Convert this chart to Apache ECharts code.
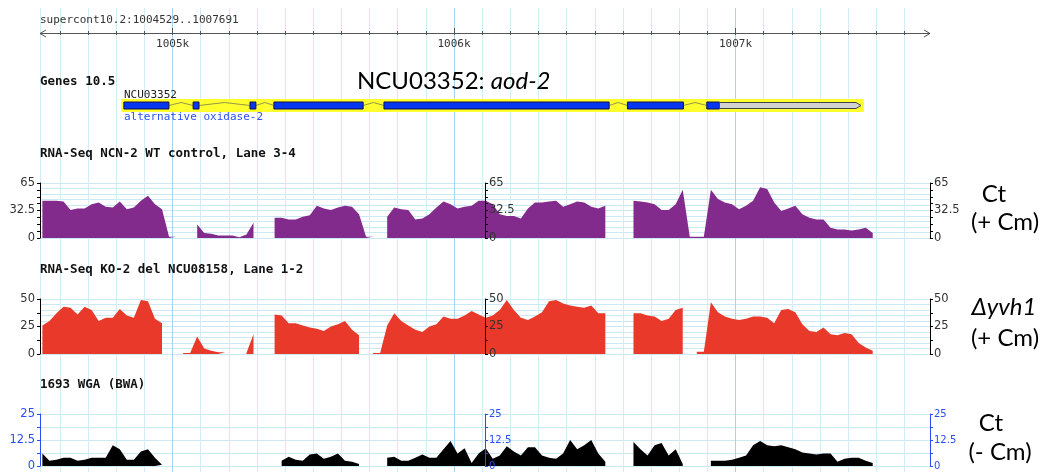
<!DOCTYPE html>
<html><head><meta charset="utf-8">
<script src="https://cdn.jsdelivr.net/npm/echarts@6/dist/echarts.min.js"></script>
<style>html,body{margin:0;padding:0;background:#fff}#c{width:1042px;height:472px}</style>
</head><body><div id="c"></div>
<script>
// ---- data ----
const viewStart = 1004529, viewEnd = 1007691;
const rulerTicks = [1004600,1004700,1004800,1004900,1005000,1005100,1005200,1005300,1005400,1005500,1005600,1005700,1005800,1005900,1006000,1006100,1006200,1006300,1006400,1006500,1006600,1006700,1006800,1006900,1007000,1007100,1007200,1007300,1007400,1007500,1007600];
const rulerLabels = [1005000,1006000,1007000];
const gridLineStart = 1004600, gridLineEnd = 1007600, gridLineStep = 100;

const geneBox = [1004817, 1007456];
const exons = [[1004827,1004987],[1005073,1005094],[1005275,1005296],[1005360,1005677],[1005751,1006551],[1006616,1006815],[1006898,1006943]];
const utr = [1006943, 1007446];

// coverage per 25 bp bin (bin centres), null = no reads
const binStart = 1004525, binSize = 25;
const _ = null;
const wtCm = [44,44,44,43,33,35,35,40,42,37, 36,43,34,36,44,50,40,34,1.5,1.5,
  _,_,16,6,5,3,3,3,1,4, 18,_,_,24,24,22,22,25,27,38,
  35,33,36,38,37,28,1.5,1.5,_,25, 36,34,33,22,23,28,36,43,40,35,
  37,38,44,44,40,28,26,26,23,35, 42,42,43,44,37,40,43,42,37,35,
  38,_,_,_,44,43,42,40,33,33, 40,57,1.5,1.5,1.5,57,46,42,40,34,
  38,44,60,58,42,32,35,38,28,24, 22,22,12,10,10,9,10,12,6,_,
  _,_,_,_,_,_,_];
const koCm = [26,30,37,43,42,36,43,40,30,33, 33,41,35,33,49,48,32,28,_,_,
  1,1,16,5,3,1.5,1.5,_,_,1, 18,_,_,36,35,28,28,26,24,23,
  21,25,27,30,22,17,_,1,1,26, 37,30,26,22,20,25,27,34,32,32,
  35,39,36,33,35,40,49,40,33,31, 34,38,48,49,46,44,43,42,44,37,
  37,_,_,_,37,37,35,34,30,32, 40,42,_,2,2,47,38,34,32,31,
  32,34,34,33,28,40,41,38,27,21, 20,24,18,17,19,18,10,6,3,_,
  _,_,_,_,_,_,_];
const wtNoCm = [6,2.5,3,4,4,2.5,3,4,4,4, 10,8,3,3,7,8,4,0.6,_,_,
  _,_,_,_,_,_,_,_,_,_, _,_,_,_,2.5,4.5,3,2.5,5.5,6,
  3.5,4.5,6,2.5,2,1,_,_,_,4, 4.5,2.5,2.5,4,5.5,4,4,8,12,6,
  8.5,1.5,6,8.5,3.5,5,9.5,7,5,9, 9,5,4,3.5,6,12.5,8,10,12.5,6,
  2,_,_,_,11.5,8,5,10,11,5, 8,1,_,_,_,2.5,2.5,2.5,3,4,
  5,10,12,10,9.5,10,9,8,6.5,6, 5.5,6,6,2,3.5,4,4,2.5,1.5,_,
  _,_,_,_,_,_,_];
const t1Ticks = [0, 32.5, 65];
const t2Ticks = [0, 25, 50];
const t3Ticks = [0, 12.5, 25];

// ---- layout ----
const L = 40, WID = 890;
const pxPerBp = WID / (viewEnd - viewStart);
const bgLeft = L + (gridLineStart - viewStart) * pxPerBp;
const bgWidth = (gridLineEnd - gridLineStart) * pxPerBp;
const light = '#d2edf5', dark = '#a6d4ec', hline = '#cce8f3';
const vColors = [];
for (let i = 0; i < 10; i++) vColors.push(i === 4 ? dark : light);

const chart = echarts.init(document.getElementById('c'));
const tracks = [
  {top:183, ticks:t1Ticks, minor:4, hstep:6.5, color:'#000', labelColor:'#333', midFont:11.5, vals:wtCm, fill:'#832a8d'},
  {top:299, ticks:t2Ticks, minor:2, hstep:5, color:'#000', labelColor:'#333', midFont:11.5, vals:koCm, fill:'#e8392a'},
  {top:414, ticks:t3Ticks, minor:2, hstep:6.25, color:'#2b4cf5', labelColor:'#2b4cf5', midFont:10, vals:wtNoCm, fill:'#000'}
];

const grid = [
  {left:bgLeft, width:bgWidth, top:8, bottom:0},
  {left:L, width:WID, top:28, height:5},
  {left:L, width:WID, top:99, height:13}
];
const xAxis = [
  {gridIndex:0, type:'value', min:gridLineStart, max:gridLineEnd, interval:gridLineStep,
   axisLine:{show:false}, axisTick:{show:false}, axisLabel:{show:false},
   splitLine:{show:true, showMinLine:true, showMaxLine:true, lineStyle:{color:vColors, width:1}}},
  {gridIndex:1, type:'value', min:viewStart, max:viewEnd, position:'bottom',
   axisLine:{show:false}, splitLine:{show:false},
   axisTick:{show:true, customValues:rulerTicks, length:2, inside:false, lineStyle:{color:'#555'}},
   axisLabel:{show:true, customValues:rulerLabels, margin:6, color:'#333', fontFamily:'DejaVu Sans Mono', fontSize:11,
     formatter:v => (v/1000) + 'k'}},
  {gridIndex:1, type:'value', min:viewStart, max:viewEnd, position:'bottom',
   axisLine:{show:false}, splitLine:{show:false}, axisLabel:{show:false},
   axisTick:{show:true, customValues:rulerTicks, length:2, inside:true, lineStyle:{color:'#555'}}},
  {gridIndex:1, type:'value', min:viewStart, max:viewEnd, position:'bottom',
   axisLine:{show:false}, splitLine:{show:false}, axisLabel:{show:false},
   axisTick:{show:true, customValues:rulerLabels, length:5, inside:true, lineStyle:{color:'#555'}}},
  {gridIndex:2, type:'value', min:viewStart, max:viewEnd, show:false}
];
const yAxis = [
  {gridIndex:0, type:'value', min:0, max:1, show:false},
  {gridIndex:1, type:'value', min:0, max:1, show:false},
  {gridIndex:2, type:'value', min:0, max:1, show:false}
];
const series = [];

tracks.forEach((t, k) => {
  const gi = grid.length;
  grid.push({left:L, width:WID, top:t.top, height:55});
  xAxis.push({gridIndex:gi, type:'value', min:viewStart, max:viewEnd, show:false});
  const max = t.ticks[t.ticks.length-1], iv = t.ticks[1];
  const base = (pos, off, fs) => ({
    gridIndex:gi, type:'value', min:0, max:max, interval:iv, position:pos, offset:off, z:6,
    axisLine:{show:true, lineStyle:{color:t.color, width:1}},
    axisTick:{show:true, length:3, lineStyle:{color:t.color}},
    minorTick:{show:true, splitNumber:t.minor, length:3, lineStyle:{color:t.color}},
    splitLine:{show:false}, minorSplitLine:{show:false},
    axisLabel:{show:true, margin:pos==='left'?5:4, color:t.labelColor, fontFamily:'DejaVu Sans', fontSize:fs}
  });
  const yi = yAxis.length;
  yAxis.push(base('left', 0, 11.5));
  yAxis.push(base('right', -445, t.midFont));
  yAxis.push(base('right', 0, t.midFont));
  yAxis.push({gridIndex:gi, type:'value', min:0, max:max, interval:t.hstep, position:'left', z:0,
    axisLine:{show:false}, axisTick:{show:false}, axisLabel:{show:false},
    splitLine:{show:true, lineStyle:{color:hline, width:1}}});
  const data = t.vals.map((v,i) => [binStart + (i + 0.5)*binSize, v]);
  series.push({type:'line', xAxisIndex:xAxis.length-1, yAxisIndex:yi, data:data, connectNulls:false,
    showSymbol:false, symbol:'none', lineStyle:{width:0, opacity:0},
    areaStyle:{color:t.fill, opacity:1}, z:2, clip:true, silent:true});
});

// view-start vertical line
series.push({type:'custom', xAxisIndex:0, yAxisIndex:0, clip:false, silent:true, z:0,
  data:[[viewStart]],
  renderItem:(p, api) => {
    const a = api.coord([api.value(0), 1]), b = api.coord([api.value(0), 0]);
    return {type:'line', shape:{x1:Math.round(a[0])+0.5, y1:a[1], x2:Math.round(a[0])+0.5, y2:b[1]}, style:{stroke:light, lineWidth:1}};
  }});
// ruler line with open arrowheads
series.push({type:'custom', xAxisIndex:1, yAxisIndex:1, clip:false, silent:true, z:3,
  data:[[viewStart, viewEnd]],
  renderItem:(p, api) => {
    const a = api.coord([api.value(0), 0]), b = api.coord([api.value(1), 0]);
    const y = Math.round(a[1]) + 0.5;
    const st = {stroke:'#555', lineWidth:1, fill:null};
    return {type:'group', children:[
      {type:'line', shape:{x1:a[0], y1:y, x2:b[0], y2:y}, style:st},
      {type:'polyline', shape:{points:[[a[0]+6,y-3.5],[a[0],y],[a[0]+6,y+3.5]]}, style:st},
      {type:'polyline', shape:{points:[[b[0]-6,y-3.5],[b[0],y],[b[0]-6,y+3.5]]}, style:st}
    ]};
  }});
// gene highlight box
series.push({type:'custom', xAxisIndex:4, yAxisIndex:2, clip:false, silent:true, z:2,
  data:[geneBox],
  renderItem:(p, api) => {
    const a = api.coord([api.value(0), 1]), b = api.coord([api.value(1), 0]);
    return {type:'rect', shape:{x:a[0], y:a[1], width:b[0]-a[0], height:b[1]-a[1]}, style:{fill:'#ffff2e'}};
  }});
// introns (hats)
const introns = exons.slice(1).map((ex, i) => [exons[i][1], ex[0]]);
series.push({type:'custom', xAxisIndex:4, yAxisIndex:2, clip:false, silent:true, z:3,
  data:introns,
  renderItem:(p, api) => {
    const a = api.coord([api.value(0), 1]), b = api.coord([api.value(1), 0]);
    const mid = a[1] + 6.5;
    return {type:'polyline', shape:{points:[[a[0],mid],[(a[0]+b[0])/2, mid-3],[b[0],mid]]}, style:{stroke:'#7a7a55', lineWidth:0.8, fill:null}};
  }});
// exons
series.push({type:'custom', xAxisIndex:4, yAxisIndex:2, clip:false, silent:true, z:4,
  data:exons,
  renderItem:(p, api) => {
    const a = api.coord([api.value(0), 1]), b = api.coord([api.value(1), 0]);
    return {type:'rect', shape:{x:a[0], y:a[1]+3, width:b[0]-a[0], height:7}, style:{fill:'#0536f0', stroke:'#10104a', lineWidth:1}};
  }});
// UTR
series.push({type:'custom', xAxisIndex:4, yAxisIndex:2, clip:false, silent:true, z:4,
  data:[utr],
  renderItem:(p, api) => {
    const a = api.coord([api.value(0), 1]), b = api.coord([api.value(1), 0]);
    const t = a[1]+3.5, bt = a[1]+9.5, m = a[1]+6.5;
    return {type:'polygon', shape:{points:[[a[0],t],[b[0]-5,t],[b[0],m],[b[0]-5,bt],[a[0],bt]]}, style:{fill:'#d2d2d2', stroke:'#444', lineWidth:1}};
  }});

const mono = '"DejaVu Sans Mono", monospace';
const txt = (x, y, text, font, fill, align) => ({type:'text', x:x, y:y, z:10, silent:true,
  style:{text:text, font:font, fill:fill, align:align||'left', verticalAlign:'middle'}});
const graphic = [
  txt(40, 20, 'supercont10.2:1004529..1007691', '11px ' + mono, '#333'),
  txt(40, 81.5, 'Genes 10.5', 'bold 12.5px ' + mono, '#111'),
  txt(124, 95, 'NCU03352', '11px ' + mono, '#222'),
  txt(124, 117, 'alternative oxidase-2', '11px ' + mono, '#2a52f0'),
  txt(40, 153.5, 'RNA-Seq NCN-2 WT control, Lane 3-4', 'bold 12.5px ' + mono, '#111'),
  txt(40, 269.5, 'RNA-Seq KO-2 del NCU08158, Lane 1-2', 'bold 12.5px ' + mono, '#111'),
  txt(40, 385, '1693 WGA (BWA)', 'bold 12.5px ' + mono, '#111'),
  {type:'text', x:357, y:81, z:10, silent:true, style:{text:'{a|NCU03352: }{b|aod-2}', verticalAlign:'middle',
    rich:{a:{font:'24px Lato', fill:'#000'}, b:{font:'italic 24px Lato', fill:'#000'}}}},
  txt(994, 194, 'Ct', '24px Lato', '#000', 'center'),
  txt(1005, 222, '(+ Cm)', '24px Lato', '#000', 'center'),
  txt(1004, 307, 'Δyvh1', 'italic 24px Lato', '#000', 'center'),
  txt(1005, 338, '(+ Cm)', '24px Lato', '#000', 'center'),
  txt(991, 423, 'Ct', '24px Lato', '#000', 'center'),
  txt(1000, 452, '(- Cm)', '24px Lato', '#000', 'center')
];

chart.setOption({animation:false, backgroundColor:'#fff', grid:grid, xAxis:xAxis, yAxis:yAxis, series:series, graphic:graphic});
</script></body></html>
